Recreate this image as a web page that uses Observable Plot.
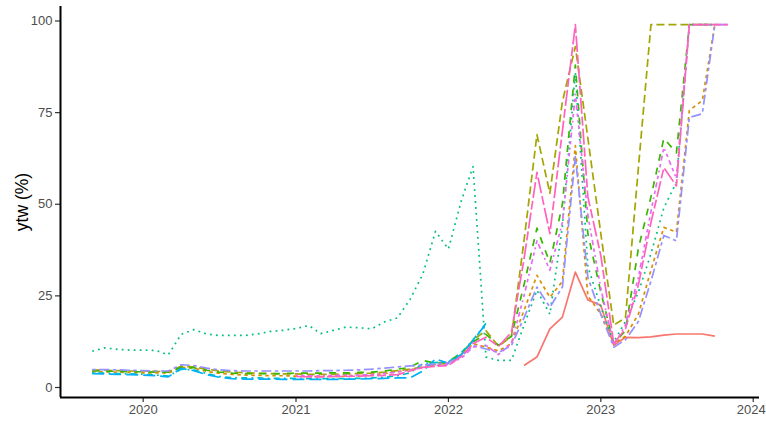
<!DOCTYPE html>
<html>
<head>
<meta charset="utf-8">
<script src="https://cdn.jsdelivr.net/npm/d3@7"></script>
<script src="https://cdn.jsdelivr.net/npm/@observablehq/plot@0.6"></script>
<style>
  html, body { margin: 0; padding: 0; background: #ffffff; }
  #chart { width: 766px; height: 421px; }
</style>
</head>
<body>
<div id="chart"></div>
<script>
// Monthly observation dates
const months = [
  "2019-09-01","2019-10-01","2019-11-01","2019-12-01",
  "2020-01-01","2020-02-01","2020-03-01","2020-04-01","2020-05-01","2020-06-01","2020-07-01","2020-08-01","2020-09-01","2020-10-01","2020-11-01","2020-12-01",
  "2021-01-01","2021-02-01","2021-03-01","2021-04-01","2021-05-01","2021-06-01","2021-07-01","2021-08-01","2021-09-01","2021-10-01","2021-11-01","2021-12-01",
  "2022-01-01","2022-02-01","2022-03-01","2022-04-01","2022-05-01","2022-06-01","2022-07-01","2022-08-01","2022-09-01","2022-10-01","2022-11-01","2022-12-01",
  "2023-01-01","2023-02-01","2023-03-01","2023-04-01","2023-05-01","2023-06-01","2023-07-01","2023-08-01","2023-09-01","2023-10-01","2023-11-01"
];
const N = null;
// Series values (ytw, %)
const s01 = [N,N,N,N, N,N,N,N,N,N,N,N,N,N,N,N, N,N,N,N,N,N,N,N,N,N,N,N,
  N,N,N,N,N,N,6,8.3,16,19.2,31.5,23.9, 22.4,11.5,13.7,13.6,13.8,14.3,14.6,14.6,14.6,14.0,N];
const s02 = [4.3,4.3,4.2,4.1, 4.0,4.0,3.9,5.5,5.3,4.4,3.9,3.6,3.4,3.3,3.2,3.2,
  3.1,3.0,3.0,3.0,3.1,3.2,3.4,3.8,4.3,4.8,5.5,6.3,
  6.8,8.5,12,11,10,12,21,30.6,24.6,29,66,25, 20,12,14,20,32,43.7,42.4,75.6,78.3,99,N];
const s03 = [4.8,4.7,4.6,4.5, 4.5,4.4,4.3,5.8,5.6,5.0,4.5,4.2,4.0,3.9,3.8,3.7,
  3.7,3.6,3.6,3.6,3.7,3.8,3.9,4.2,4.6,5.0,5.6,6.2,
  6.8,9,13,15.5,11.2,14,40,69,53,78,93,68, 42,17,19,60,99,99,99,99,99,99,N];
const s04 = [4.5,4.5,4.4,4.3, 4.3,4.2,4.2,5.5,5.4,4.7,4.2,3.9,3.8,3.8,3.8,3.8,
  3.9,3.9,3.9,4.0,4.0,4.1,4.2,4.5,5.0,5.5,7.4,6.6,
  7.0,9.5,12.5,14.5,11.5,14,28,43.5,34,50,88,42, 26,12,15.5,38,52,68,64,99,99,99,N];
const s05 = [9.9,10.8,10.4,10.2, 10.2,10.1,8.9,14.5,15.8,14.6,14.2,14.2,14.2,14.6,15.3,15.6,
  16.1,16.9,14.7,15.6,16.5,16.3,16.0,17.9,19,24,31,42.6,
  37.8,51,60.3,8.3,7.4,7.4,17,26.5,20,44,86,33, 22,12.5,18,26,36.5,49,56,99,99,99,N];
const s06 = [4.0,3.9,3.8,3.7, 3.6,3.4,3.1,5.0,4.8,3.8,3.0,2.7,2.6,2.6,2.5,2.5,
  2.5,2.4,2.4,2.4,2.4,2.5,2.6,2.8,3.2,4.0,6.5,6.8,
  7.0,9.5,13,17.5,N,N,N,N,N,N,N,N, N,N,N,N,N,N,N,N,N,N,N];
const s07 = [3.8,3.7,3.6,3.5, 3.4,3.2,2.9,5.2,4.6,3.5,2.8,2.4,2.3,2.3,2.3,2.2,
  2.2,2.2,2.2,2.2,2.3,2.3,2.4,2.5,2.6,2.6,4.5,7.8,
  6.6,9,12.8,17.4,N,N,N,N,N,N,N,N, N,N,N,N,N,N,N,N,N,N,N];
const s08 = [4.9,4.9,4.8,4.7, 4.6,4.5,4.5,6.2,6.0,5.3,4.8,4.6,4.5,4.5,4.5,4.5,
  4.5,4.5,4.6,4.6,4.7,4.8,5.0,5.3,5.6,5.9,6.1,6.4,
  6.8,8.5,11.5,10.5,9.5,11.5,19,27.4,21.9,27.4,63,30, 20,11,13,18,29,41.5,40,73.7,74.7,99,99];
const s09 = [N,N,N,N, N,N,N,N,N,N,N,N,N,N,N,N,
  3.3,3.2,3.2,3.3,3.3,3.4,3.5,3.8,4.2,4.8,5.4,6.0,
  6.3,8,11,11.5,9,12,25,40,32,45,80,47, 27,11.5,17,30,48,65.5,57,99,99,99,99];
const s10 = [N,N,N,N, N,N,N,N,N,N,N,N,N,N,N,N,
  3.0,2.9,2.9,3.0,3.0,3.1,3.2,3.3,3.5,4.5,5.5,5.8,
  6.0,8.5,12,13.7,11.2,15.1,35,58.7,42,70,99,52, 36,12,16,28,45,60,55,99,99,99,99];

const seriesValues = [s01, s02, s03, s04, s05, s06, s07, s08, s09, s10];
const seriesColors = ["#F8766D","#D89000","#A3A500","#39B600","#00BF7D","#00BFC4","#00B0F6","#9590FF","#E76BF3","#FF62BC"];
const seriesDash = [null, "3.5,3.5", "8,4", "7,7", "1.8,4.2", "1.8,4.2,6,4.2", "12,5", "3.5,3.5,10,3.5", "1.8,3.4,3.4,3.4,5,3.4,3.4,3.4", "16,3,9,3"];
const yTicks = [0, 25, 50, 75, 100];
const xTickYears = ["2020-01-01","2021-01-01","2022-01-01","2023-01-01","2024-01-01"];

const parse = d3.utcParse("%Y-%m-%d");
const xDomain = [parse("2019-06-17"), parse("2024-01-16")];
const yDomain = [-2.73, 103.96];
const xTicks = xTickYears.map(parse);

const lineMarks = seriesValues.map((vals, k) => {
  const data = [];
  vals.forEach((v, i) => { if (v != null) data.push({date: parse(months[i]), value: v}); });
  return Plot.line(data, {
    x: "date", y: "value",
    stroke: seriesColors[k],
    strokeWidth: 1.7,
    strokeDasharray: seriesDash[k] || undefined,
    strokeLinecap: "butt",
    strokeLinejoin: "round"
  });
});

const fmtYear = d3.utcFormat("%Y");
const chart = Plot.plot({
  width: 766,
  height: 421,
  marginLeft: 60,
  marginRight: 7,
  marginTop: 6,
  marginBottom: 24,
  style: {fontFamily: "'Liberation Sans', Arial, sans-serif", background: "#ffffff"},
  x: {type: "utc", domain: xDomain},
  y: {domain: yDomain},
  marks: [
    ...lineMarks,
    Plot.axisY({ticks: yTicks, tickSize: 5, tickPadding: 3, fontSize: 13, color: "#4d4d4d", stroke: "#333333", strokeWidth: 1.2, label: null}),
    Plot.axisX({ticks: xTicks, tickFormat: null, text: null, tickSize: 5, stroke: "#333333", strokeWidth: 1.2, label: null}),
    Plot.text(xTicks.slice(0, 4), {x: d => d, frameAnchor: "bottom", dy: 16, fontSize: 13, fill: "#4d4d4d", text: d => fmtYear(d)}),
    Plot.text(xTicks.slice(4), {x: d => d, frameAnchor: "bottom", dy: 16, dx: -2, fontSize: 13, fill: "#4d4d4d", text: d => fmtYear(d)}),
    Plot.ruleX([xDomain[0]], {stroke: "#000000", strokeWidth: 2}),
    Plot.ruleY([yDomain[0]], {stroke: "#000000", strokeWidth: 2}),
    Plot.text(["ytw (%)"], {frameAnchor: "left", textAnchor: "middle", dx: -38, rotate: -90, fontSize: 17.5, fill: "#000000"})
  ]
});
document.getElementById("chart").appendChild(chart);
</script>
</body>
</html>
